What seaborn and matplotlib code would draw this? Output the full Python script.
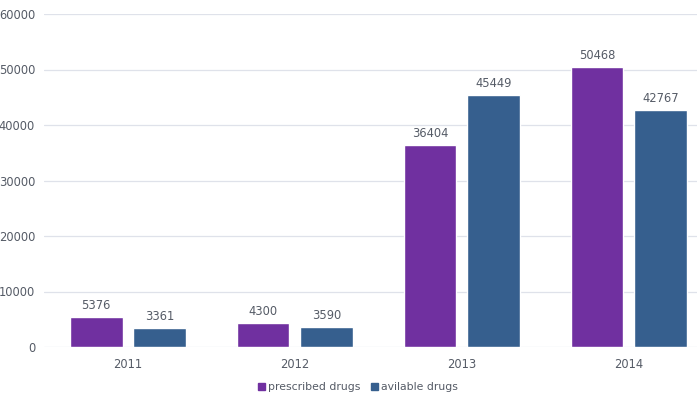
import matplotlib
matplotlib.use("Agg")
import matplotlib.pyplot as plt
import seaborn as sns
import pandas as pd
from matplotlib.patches import Patch

years = ["2011", "2012", "2013", "2014"]
prescribed = [5376, 4300, 36404, 50468]
available = [3361, 3590, 45449, 42767]
series_names = ["prescribed drugs", "avilable drugs"]
yticks = [0, 10000, 20000, 30000, 40000, 50000, 60000]

df = pd.DataFrame({
    "year": years * 2,
    "value": prescribed + available,
    "series": [series_names[0]] * 4 + [series_names[1]] * 4,
})

sns.set_style("white")
plt.rcParams['font.family'] = ['DejaVu Sans']
colors = ["#7030a0", "#365f8e"]
text_color = "#555b66"

fig = plt.figure(figsize=(7, 3.96), dpi=100)
ax = fig.add_axes([43.5/700, 1 - 347/396, (697 - 43.5)/700, (347 - 14)/396])

sns.barplot(data=df, x="year", y="value", hue="series", palette=colors,
            width=0.76, gap=0.17, ax=ax, legend=False, saturation=1)

for cont in ax.containers:
    ax.bar_label(cont, labels=[f"{int(v)}" for v in cont.datavalues],
                 padding=3.5, fontsize=8.3, color=text_color)

ax.set_ylim(0, 60000)
ax.set_xlim(-0.506, (697 - 127.5) / 167)
ax.set_yticks(yticks)
ax.set_yticklabels([str(v) for v in yticks])
ax.grid(axis="y", color="#dfe2ea", linewidth=0.9)
ax.set_axisbelow(True)
for s in ax.spines.values():
    s.set_visible(False)
ax.tick_params(axis="both", length=0, labelsize=8.3, labelcolor=text_color)
ax.tick_params(axis="x", pad=8)
ax.tick_params(axis="y", pad=6)
ax.set_xlabel("")
ax.set_ylabel("")

handles = [Patch(facecolor=c, edgecolor=c) for c in colors]
fig.legend(handles, series_names, loc="center", bbox_to_anchor=(358/700, 1 - 387/396),
           ncol=2, frameon=False, fontsize=7.8, handlelength=0.6, handleheight=0.6,
           handletextpad=0.3, columnspacing=1.0, labelcolor=text_color)

fig.savefig("out.png", dpi=100)
